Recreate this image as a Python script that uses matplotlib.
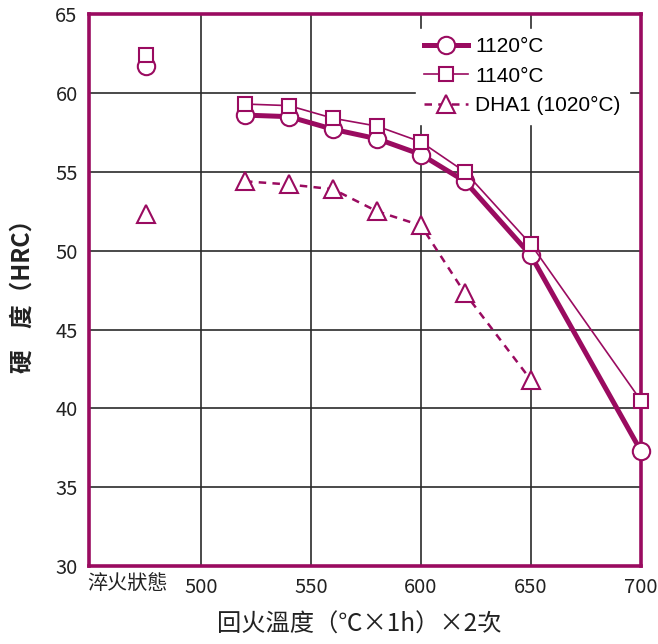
import matplotlib
matplotlib.use("Agg")
import matplotlib.pyplot as plt
from matplotlib.lines import Line2D

plt.rcParams['font.family'] = ['Liberation Sans Narrow', 'Noto Sans CJK TC', 'DejaVu Sans']

# Tempering temperatures (°C) and hardness (HRC)
temps = [520, 540, 560, 580, 600, 620, 650, 700]
hrc_1120 = [58.6, 58.5, 57.7, 57.1, 56.1, 54.4, 49.7, 37.3]
hrc_1140 = [59.3, 59.2, 58.4, 57.9, 56.9, 55.0, 50.4, 40.5]
temps_dha1 = [520, 540, 560, 580, 600, 620, 650]
hrc_dha1 = [54.4, 54.2, 53.9, 52.5, 51.6, 47.3, 41.8]

# As-quenched hardness
quench_x = 475
quench_1120 = 61.7
quench_1140 = 62.4
quench_dha1 = 52.3

xticks = [500, 550, 600, 650, 700]
yticks = [30, 35, 40, 45, 50, 55, 60, 65]
quench_label = '淬火狀態'

purple = '#9a0b60'
grid_c = '#2b2b2b'

fig = plt.figure(figsize=(6.58, 6.44), dpi=100)
ax = fig.add_axes([0.135, 0.121, 0.839, 0.857])

ax.set_xlim(449, 700)
ax.set_ylim(30, 65)
ax.set_xticks(xticks)
ax.set_yticks(yticks)
ax.set_xticks([466.5], minor=True)
ax.set_xticklabels([quench_label], minor=True, fontsize=16, family=['Noto Sans CJK TC'])
ax.grid(True, which='major', color=grid_c, linewidth=1.2)
ax.set_axisbelow(True)
ax.tick_params(which='both', length=0, labelsize=14.5, colors='#222222', pad=8)
ax.tick_params(which='minor', pad=6)
for s in ax.spines.values():
    s.set_color(purple)
    s.set_linewidth(2.6)

mk = dict(markerfacecolor='white', markeredgecolor=purple, markeredgewidth=1.5, clip_on=False, zorder=5)

ax.plot(temps, hrc_1120, color=purple, linewidth=3.6, marker='o', markersize=12.5, **mk)
ax.plot(temps, hrc_1140, color=purple, linewidth=1.2, marker='s', markersize=10.5, **mk)
ax.plot(temps_dha1, hrc_dha1, color=purple, linewidth=1.8, linestyle=(0, (3, 2.5)),
        marker='^', markersize=13, **mk)

ax.plot([quench_x], [quench_1120], linestyle='none', marker='o', markersize=12.5, **mk)
ax.plot([quench_x], [quench_1140], linestyle='none', marker='s', markersize=10.5, **mk)
ax.plot([quench_x], [quench_dha1], linestyle='none', marker='^', markersize=13, **mk)

handles = [
    Line2D([], [], color=purple, linewidth=3.6, marker='o', markersize=12.5,
           markerfacecolor='white', markeredgecolor=purple, markeredgewidth=1.5),
    Line2D([], [], color=purple, linewidth=1.2, marker='s', markersize=10.5,
           markerfacecolor='white', markeredgecolor=purple, markeredgewidth=1.5),
    Line2D([], [], color=purple, linewidth=1.8, linestyle=(0, (3, 2.5)), marker='^', markersize=13,
           markerfacecolor='white', markeredgecolor=purple, markeredgewidth=1.5),
]
labels = ['1120°C', '1140°C', 'DHA1 (1020°C)']
leg = ax.legend(handles, labels, loc='upper right', bbox_to_anchor=(0.997, 0.992),
                frameon=True, fancybox=False, framealpha=1, edgecolor='white',
                handlelength=2.1, handletextpad=0.35, labelspacing=0.5,
                borderpad=0.4, prop={'family': ['Liberation Sans', 'DejaVu Sans'], 'size': 15})
leg.set_zorder(4)

ax.set_xlabel('回火溫度（℃×1h）×2次', fontsize=17.5, color='#222222',
              family=['Noto Sans CJK TC'], labelpad=10, x=0.49)
ax.set_ylabel('硬    度（HRC）', fontsize=17, color='#222222',
              family=['Noto Sans CJK TC'], labelpad=15, fontweight='bold')

fig.savefig('out.png', dpi=100, facecolor='white')
